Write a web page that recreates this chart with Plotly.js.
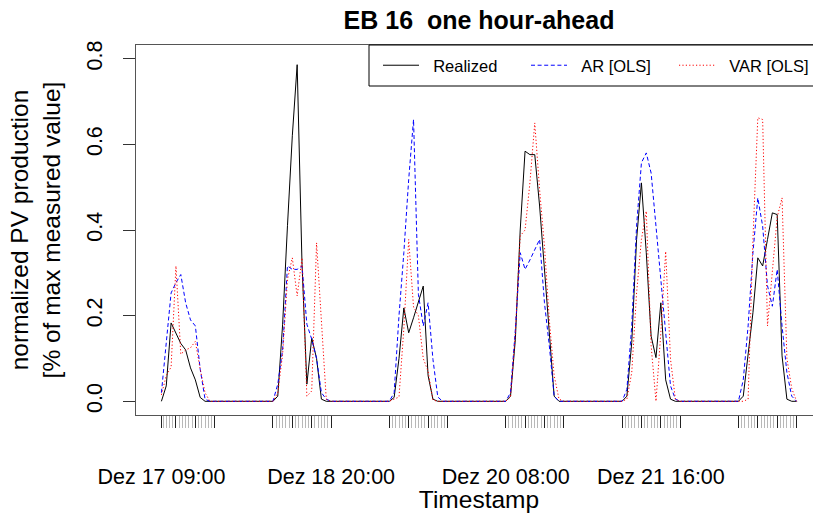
<!DOCTYPE html>
<html>
<head>
<meta charset="utf-8">
<script src="https://cdn.plot.ly/plotly-3.0.1.min.js"></script>
<style>
  html, body { margin: 0; padding: 0; overflow: hidden; background: #fff; }
  #chart { width: 840px; height: 513px; }
</style>
</head>
<body>
<div id="chart"></div>
<script>
// Hourly daytime windows (08:00-20:00; the first day starts at 09:00)
const dayDates = ['2016-12-17', '2016-12-18', '2016-12-19', '2016-12-20', '2016-12-21', '2016-12-22'];
const dayFirstHour = [9, 8, 8, 8, 8, 8];
const dayLastHour = 20;

// Normalized PV production, one value per hour of each window
const realized = [
  0, 0.036, 0.183, 0.158, 0.135, 0.12, 0.078, 0.05, 0.009, 0, 0, 0,
  0, 0.012, 0.18, 0.41, 0.62, 0.786, 0.32, 0.04, 0.148, 0.1, 0.005, 0, 0,
  0, 0.009, 0.1, 0.218, 0.16, 0.195, 0.23, 0.269, 0.06, 0.005, 0, 0, 0,
  0, 0.012, 0.145, 0.4, 0.584, 0.576, 0.576, 0.456, 0.3, 0.16, 0.012, 0, 0,
  0, 0.012, 0.137, 0.378, 0.51, 0.347, 0.152, 0.102, 0.23, 0.05, 0.005, 0, 0,
  0, 0.012, 0.106, 0.207, 0.335, 0.316, 0.378, 0.44, 0.436, 0.106, 0.005, 0, 0
];
const arOLS = [
  0.02, 0.145, 0.253, 0.277, 0.296, 0.23, 0.19, 0.176, 0.075, 0.005, 0, 0,
  0, 0.04, 0.12, 0.316, 0.308, 0.308, 0.316, 0.18, 0.145, 0.1, 0.02, 0.005, 0,
  0, 0.02, 0.2, 0.347, 0.518, 0.658, 0.25, 0.176, 0.23, 0.098, 0.01, 0, 0,
  0, 0.02, 0.168, 0.347, 0.308, 0.33, 0.354, 0.378, 0.23, 0.13, 0.012, 0, 0,
  0, 0.028, 0.176, 0.409, 0.557, 0.58, 0.533, 0.409, 0.277, 0.16, 0.036, 0.005, 0,
  0, 0.05, 0.176, 0.347, 0.475, 0.409, 0.27, 0.222, 0.308, 0.176, 0.067, 0.012, 0
];
const varOLS = [
  0.015, 0.06, 0.08, 0.316, 0.11, 0.12, 0.125, 0.14, 0.075, 0.02, 0, 0,
  0, 0.02, 0.11, 0.285, 0.335, 0.246, 0.335, 0.012, 0.024, 0.37, 0.2, 0.005, 0,
  0, 0.005, 0.01, 0.17, 0.378, 0.22, 0.2, 0.1, 0.07, 0.003, 0, 0, 0,
  0, 0.01, 0.16, 0.386, 0.4, 0.51, 0.65, 0.494, 0.362, 0.19, 0.06, 0.005, 0,
  0, 0.005, 0.067, 0.253, 0.378, 0.444, 0.13, 0, 0.16, 0.35, 0.098, 0.005, 0,
  0, 0, 0.005, 0.378, 0.662, 0.658, 0.176, 0.3, 0.43, 0.475, 0.1, 0.03, 0
];

// Labelled time stamps on the x axis
const tickLabelStamps = ['2016-12-17 09:00', '2016-12-18 20:00', '2016-12-20 08:00', '2016-12-21 16:00'];
const tickLabelTexts = ['Dez 17 09:00', 'Dez 18 20:00', 'Dez 20 08:00', 'Dez 21 16:00'];

const yTickVals = [0, 0.2, 0.4, 0.6, 0.8];
const yTickText = ['0.0', '0.2', '0.4', '0.6', '0.8'];

const seriesNames = ['Realized', 'AR [OLS]', 'VAR [OLS]'];

// ---------------------------------------------------------------
const FONT = 'Liberation Sans, Arial, Helvetica, sans-serif';
const NB = '\u00a0\u00a0';
const pad2 = n => String(n).padStart(2, '0');
const stamp = (d, minutes) => d + ' ' + pad2(Math.floor(minutes / 60)) + ':' + pad2(minutes % 60);
const toMs = s => new Date(s.replace(' ', 'T') + ':00Z').getTime();

// hourly time stamps of every window
const times = [];
dayDates.forEach((d, i) => {
  for (let h = dayFirstHour[i]; h <= dayLastHour; h++) times.push(stamp(d, h * 60));
});

// minor ticks every 40 minutes and major ticks every 4 hours inside each window
const minorTicks = [];
const majorTicks = [];
dayDates.forEach((d, i) => {
  const first = dayFirstHour[i] * 60;
  if (first % 40 !== 0) minorTicks.push(stamp(d, first));
  for (let m = 8 * 60; m <= dayLastHour * 60; m += 40) if (m >= first) minorTicks.push(stamp(d, m));
  if (first % 240 !== 0) majorTicks.push(stamp(d, first));
  for (let m = 8 * 60; m <= dayLastHour * 60; m += 240) if (m >= first) majorTicks.push(stamp(d, m));
});

// 4 % padding on both ends of the time span
const t0 = toMs(times[0]), t1 = toMs(times[times.length - 1]);
const padT = 0.04 * (t1 - t0);
const xRange = [t0 - padT, t1 + padT];
const yRange = [-0.032, 0.832];

const styles = [
  { color: '#000000', dash: 'solid' },
  { color: '#0000ff', dash: '4px,2.6px' },
  { color: '#ff0000', dash: '1.2px,2.2px' }
];
const values = [realized, arOLS, varOLS];

const traces = values.map((v, i) => ({
  type: 'scatter', mode: 'lines', name: NB + seriesNames[i],
  x: times, y: v, xaxis: 'x', yaxis: 'y',
  line: { color: styles[i].color, width: 1, dash: styles[i].dash },
  hoverinfo: 'x+y+name'
}));
// carrier traces for the overlay axes
traces.push({ type: 'scatter', x: [], y: [], xaxis: 'x2', yaxis: 'y', showlegend: false, hoverinfo: 'skip' });
traces.push({ type: 'scatter', x: [], y: [], xaxis: 'x3', yaxis: 'y', showlegend: false, hoverinfo: 'skip' });

const baseX = {
  type: 'date', range: xRange, tickmode: 'array', showgrid: false, zeroline: false,
  automargin: false, fixedrange: true
};

// plot area in pixels (used to place the legend frame)
const PL = 136, PT = 45, PW = 840 - 136 - 18, PH = 513 - 45 - 98;

const layout = {
  width: 840, height: 513,
  margin: { l: PL, r: 18, t: PT, b: 98, pad: 0 },
  paper_bgcolor: '#ffffff', plot_bgcolor: '#ffffff',
  font: { family: FONT, color: '#000' },
  title: {
    text: 'EB 16\u00a0 one hour-ahead',
    font: { family: FONT, size: 25, color: '#000', weight: 'bold' },
    x: 0.5, xref: 'paper', xanchor: 'center',
    y: 1 - 20 / 513, yref: 'container', yanchor: 'middle'
  },
  xaxis: Object.assign({}, baseX, {
    tickvals: minorTicks, showticklabels: false,
    ticks: 'outside', ticklen: 12, tickwidth: 1, tickcolor: '#b8b8b8',
    showline: true, mirror: true, linecolor: '#555', linewidth: 1
  }),
  xaxis2: Object.assign({}, baseX, {
    overlaying: 'x', anchor: 'y', side: 'bottom',
    tickvals: majorTicks, showticklabels: false,
    ticks: 'outside', ticklen: 12, tickwidth: 1, tickcolor: '#222',
    showline: false
  }),
  xaxis3: Object.assign({}, baseX, {
    overlaying: 'x', anchor: 'y', side: 'bottom',
    tickvals: tickLabelStamps, ticktext: tickLabelTexts,
    ticks: '', showline: false, ticklabelstandoff: 46,
    tickfont: { family: FONT, size: 21.5, color: '#000' },
    title: { text: 'Timestamp', font: { family: FONT, size: 24.5, color: '#000' }, standoff: 0 }
  }),
  yaxis: {
    range: yRange, tickmode: 'array', tickvals: yTickVals, ticktext: yTickText,
    ticks: 'outside', ticklen: 12, tickwidth: 1, tickcolor: '#333', tickangle: -90,
    tickfont: { family: FONT, size: 21.5, color: '#000' }, ticklabelstandoff: 12,
    showgrid: false, zeroline: false, showline: true, mirror: true, linecolor: '#555', linewidth: 1,
    automargin: false, fixedrange: true,
    title: {
      text: 'normalized PV production<br>[% of max measured value]',
      font: { family: FONT, size: 24.5, color: '#000' }, standoff: 15
    }
  },
  // legend frame in the top-right corner of the plot
  shapes: [{
    type: 'rect', xref: 'paper', yref: 'paper', layer: 'above',
    x0: (369 - PL) / PW, x1: 1, y0: 1 - (86 - PT) / PH, y1: 1,
    line: { color: '#000', width: 1 }, fillcolor: '#ffffff'
  }],
  showlegend: true,
  legend: {
    orientation: 'h', x: (378 - PL) / PW, xanchor: 'left', y: 1 - 3 / PH, yanchor: 'top',
    bgcolor: 'rgba(0,0,0,0)', borderwidth: 0,
    font: { family: FONT, size: 16.5, color: '#000' },
    entrywidth: 97, entrywidthmode: 'pixels', itemwidth: 36,
    traceorder: 'normal', itemclick: false, itemdoubleclick: false
  }
};

Plotly.newPlot('chart', traces, layout, { displayModeBar: false, staticPlot: true });
</script>
</body>
</html>
